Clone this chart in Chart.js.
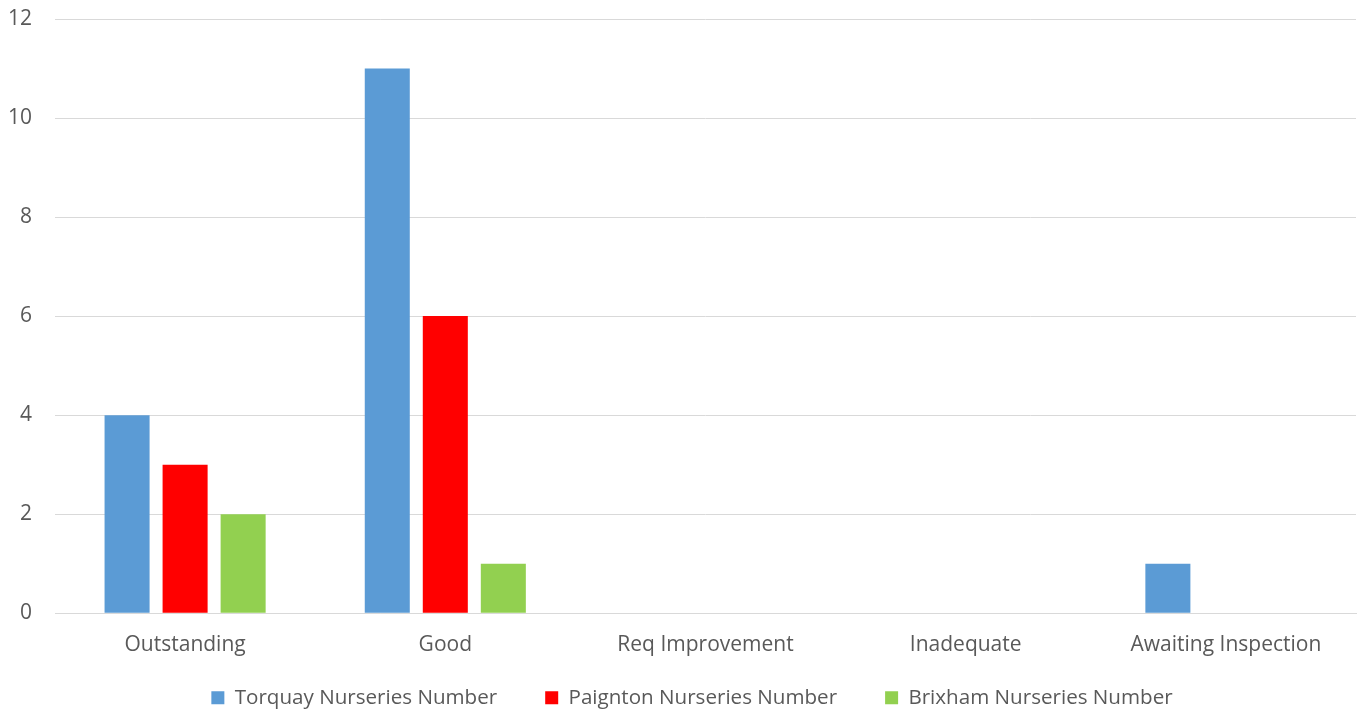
<!DOCTYPE html>
<html>
<head>
<meta charset="utf-8">
<script src="https://cdn.jsdelivr.net/npm/chart.js@4"></script>
<style>
  html, body { margin: 0; padding: 0; background: #fff; }
  #wrap { width: 1365px; height: 713px; }
</style>
</head>
<body>
<div id="wrap"><canvas id="chart"></canvas></div>
<script>
const categories = ['Outstanding', 'Good', 'Req Improvement', 'Inadequate', 'Awaiting Inspection'];
const torquay = [4, 11, 0, 0, 1];
const paignton = [3, 6, 0, 0, 0];
const brixham = [2, 1, 0, 0, 0];
const yTicks = [0, 2, 4, 6, 8, 10, 12];

// legend items are spaced wide apart, pull the row up closer to the axis labels
// and centre it under the plot area rather than the canvas
const legendShift = {
  id: 'legendShift',
  afterLayout(chart) {
    chart.legend.top -= 37;
    chart.legend.bottom -= 37;
    chart.legend.left += 11;
    chart.legend.right += 11;
  }
};

const ctx = document.getElementById('chart').getContext('2d');
new Chart(ctx, {
  type: 'bar',
  data: {
    labels: categories,
    datasets: [
      { label: 'Torquay Nurseries Number', data: torquay, backgroundColor: '#5B9BD5' },
      { label: 'Paignton Nurseries Number', data: paignton, backgroundColor: '#FF0000' },
      { label: 'Brixham Nurseries Number', data: brixham, backgroundColor: '#92D050' }
    ]
  },
  plugins: [legendShift],
  options: {
    responsive: true,
    maintainAspectRatio: false,
    animation: false,
    layout: { padding: { left: 6, right: 9, top: 0, bottom: -42 } },
    datasets: {
      bar: { categoryPercentage: 0.669, barPercentage: 0.776 }
    },
    scales: {
      x: {
        grid: { display: false, drawTicks: false },
        border: { color: '#D9D9D9', width: 1 },
        ticks: { color: '#595959', font: { family: 'Open Sans', size: 21 }, padding: 19 }
      },
      y: {
        min: 0,
        max: 12,
        afterBuildTicks: axis => { axis.ticks = yTicks.map(v => ({ value: v })); },
        grid: { color: '#D9D9D9', drawTicks: false },
        border: { display: false },
        ticks: { color: '#595959', font: { family: 'Open Sans', size: 21 }, padding: 23 },
        afterFit: axis => {
          axis.width = 49;
          axis.paddingTop = 19;
          axis.paddingBottom = 12;
        }
      }
    },
    plugins: {
      legend: {
        position: 'bottom',
        labels: {
          color: '#595959',
          font: { family: 'Open Sans', size: 20.6 },
          boxWidth: 13,
          boxHeight: 13,
          padding: 48
        }
      },
      tooltip: { enabled: false }
    }
  }
});
</script>
</body>
</html>
